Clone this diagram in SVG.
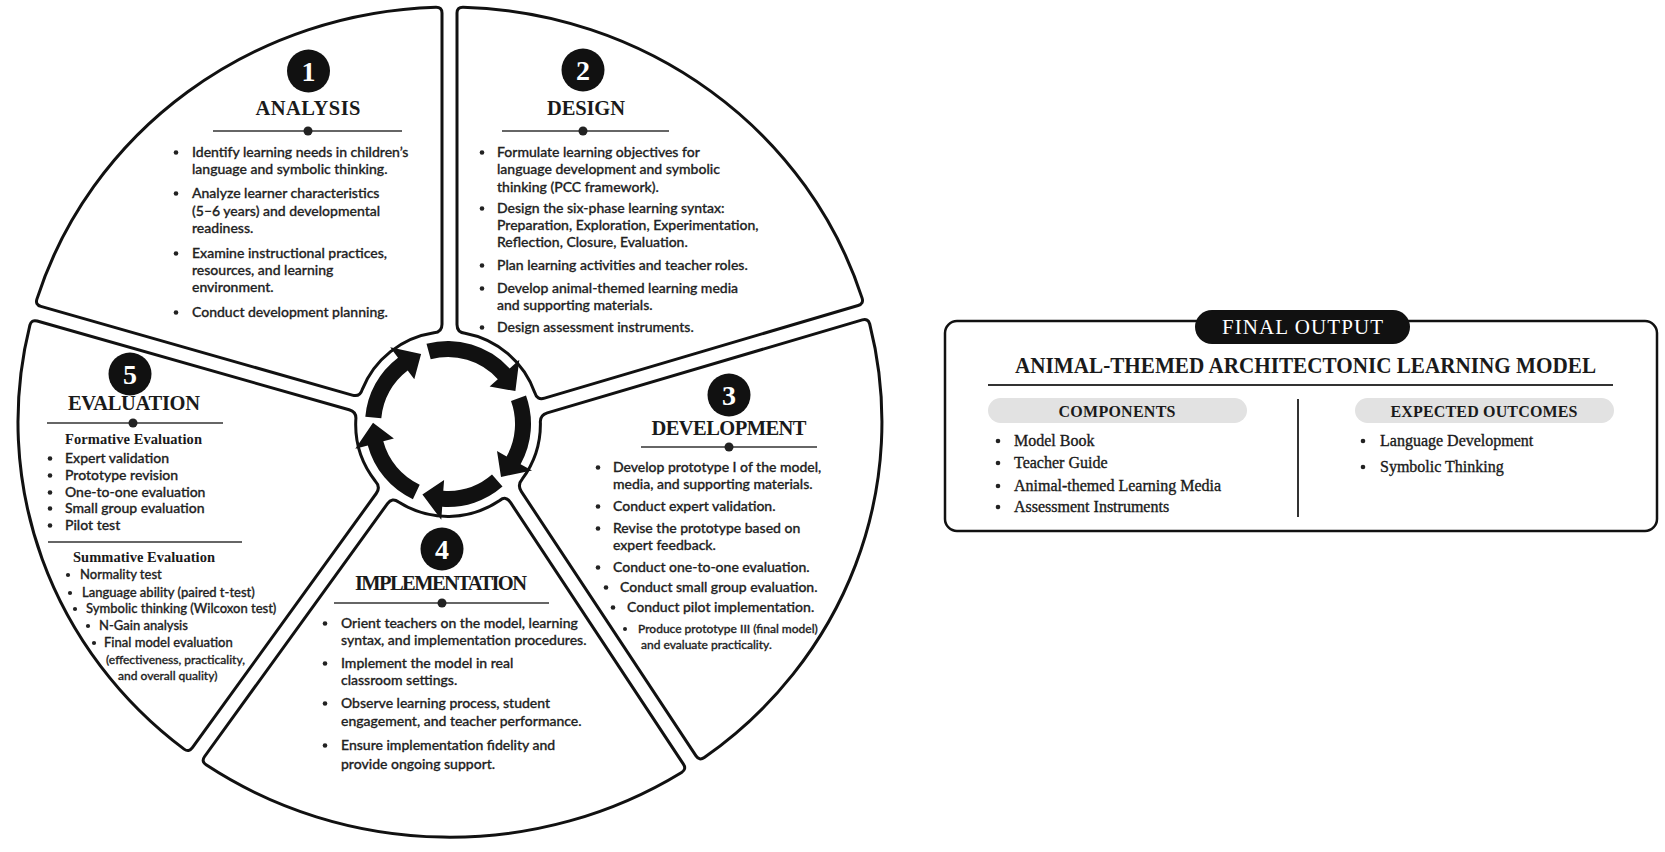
<svg xmlns="http://www.w3.org/2000/svg" width="1665" height="852" viewBox="0 0 1665 852">
<style>
.seg{fill:#fff;stroke:#111;stroke-width:3;stroke-linejoin:round}
.num{fill:#111}
.numt{fill:#fff;font-family:"Liberation Serif",serif;font-weight:bold;font-size:28px;text-anchor:middle}
.ttl{fill:#1a1a1a;font-family:"Liberation Serif",serif;font-weight:bold;font-size:20.5px;text-anchor:middle}
.dv{stroke:#333;stroke-width:1.6}
.dot{fill:#222}
.b{fill:#222;stroke:#222;stroke-width:0.3;font-family:Lato,"Liberation Sans",sans-serif;font-weight:500;font-size:14px}
.s13{font-size:13px}
.s12{font-size:12px}
.sub{fill:#1a1a1a;font-family:"Liberation Serif",serif;font-weight:bold;font-size:14.5px}
.arr{fill:#111}
.box{fill:#fff;stroke:#111;stroke-width:2.5}
.pill{fill:#111}
.gpill{fill:#e2e2e2}
.sf{fill:#1a1a1a;stroke:#1a1a1a;stroke-width:0.35;font-family:"Liberation Serif",serif;font-size:16px}
.sfb{fill:#1a1a1a;font-family:"Liberation Serif",serif;font-weight:bold;font-size:16px;text-anchor:middle}
</style>
<rect width="1665" height="852" fill="#fff"/>

<g id="analysis">
<path class="seg" d="M 352.2 395.1 L 40.9 306.4 Q 35.1 304.8 36.9 299.1 A 432 415 0 0 1 436.0 7.2 Q 442 7.1 442 13.1 L 442 324.2 Q 442 332.2 434.0 332.7 A 92 92 0 0 0 362.2 389.6 Q 359.9 397.3 352.2 395.1 Z"/>
<circle class="num" cx="308.5" cy="71" r="21.5"/>
<text class="numt" x="308.5" y="80.5">1</text>
<text class="ttl" x="308" y="115" textLength="105">ANALYSIS</text>
<line class="dv" x1="213" y1="131" x2="402" y2="131"/>
<circle class="dot" cx="308" cy="131" r="4.5"/>
<circle class="dot" cx="176" cy="152.5" r="2.3"/>
<text class="b" x="192" y="157">Identify learning needs in children’s</text>
<text class="b" x="192" y="174">language and symbolic thinking.</text>
<circle class="dot" cx="176" cy="193.5" r="2.3"/>
<text class="b" x="192" y="198">Analyze learner characteristics</text>
<text class="b" x="192" y="216">(5–6 years) and developmental</text>
<text class="b" x="192" y="233">readiness.</text>
<circle class="dot" cx="176" cy="253.5" r="2.3"/>
<text class="b" x="192" y="258">Examine instructional practices,</text>
<text class="b" x="192" y="275">resources, and learning</text>
<text class="b" x="192" y="292">environment.</text>
<circle class="dot" cx="176" cy="312.5" r="2.3"/>
<text class="b" x="192" y="317">Conduct development planning.</text>
</g>

<g id="design">
<path class="seg" d="M 465.0 333.2 Q 457 332.4 457 324.4 L 457 13.05 Q 457 7.05 463.0 7.14 A 432 415 0 0 1 862.1 298.1 Q 863.9 303.8 858.1 305.5 L 544.6 398.1 Q 536.9 400.4 534.8 392.7 A 92 92 0 0 0 465.0 333.2 Z"/>
<circle class="num" cx="583" cy="70" r="21.5"/>
<text class="numt" x="583" y="79.5">2</text>
<text class="ttl" x="586" y="115" textLength="78">DESIGN</text>
<line class="dv" x1="502" y1="131" x2="669" y2="131"/>
<circle class="dot" cx="583" cy="131" r="4.5"/>
<circle class="dot" cx="482" cy="152.5" r="2.3"/>
<text class="b" x="497" y="157">Formulate learning objectives for</text>
<text class="b" x="497" y="174">language development and symbolic</text>
<text class="b" x="497" y="192">thinking (PCC framework).</text>
<circle class="dot" cx="482" cy="208.5" r="2.3"/>
<text class="b" x="497" y="213">Design the six-phase learning syntax:</text>
<text class="b" x="497" y="230">Preparation, Exploration, Experimentation,</text>
<text class="b" x="497" y="247">Reflection, Closure, Evaluation.</text>
<circle class="dot" cx="482" cy="265.5" r="2.3"/>
<text class="b" x="497" y="270">Plan learning activities and teacher roles.</text>
<circle class="dot" cx="482" cy="288.5" r="2.3"/>
<text class="b" x="497" y="293">Develop animal-themed learning media</text>
<text class="b" x="497" y="310">and supporting materials.</text>
<circle class="dot" cx="482" cy="327.5" r="2.3"/>
<text class="b" x="497" y="332">Design assessment instruments.</text>
</g>

<g id="development">
<path class="seg" d="M 547.3 412.9 L 862.3 319.9 Q 868.1 318.2 869.7 324.0 A 432 415 0 0 1 704.3 757.5 Q 699.3 760.9 696.0 755.9 L 521.4 491.6 Q 517.0 484.9 522.3 478.9 A 92 92 0 0 0 540.4 423.2 Q 539.6 415.2 547.3 412.9 Z"/>
<circle class="num" cx="729" cy="395" r="21.5"/>
<text class="numt" x="729" y="404.5">3</text>
<text class="ttl" x="729" y="435" textLength="155">DEVELOPMENT</text>
<line class="dv" x1="641" y1="447" x2="817" y2="447"/>
<circle class="dot" cx="729" cy="447" r="4.5"/>
<circle class="dot" cx="598" cy="467.5" r="2.3"/>
<text class="b" x="613" y="472">Develop prototype I of the model,</text>
<text class="b" x="613" y="489">media, and supporting materials.</text>
<circle class="dot" cx="598" cy="506.5" r="2.3"/>
<text class="b" x="613" y="511">Conduct expert validation.</text>
<circle class="dot" cx="598" cy="528.5" r="2.3"/>
<text class="b" x="613" y="533">Revise the prototype based on</text>
<text class="b" x="613" y="550">expert feedback.</text>
<circle class="dot" cx="598" cy="567.5" r="2.3"/>
<text class="b" x="613" y="572">Conduct one-to-one evaluation.</text>
<circle class="dot" cx="606" cy="587.5" r="2.3"/>
<text class="b" x="620" y="592">Conduct small group evaluation.</text>
<circle class="dot" cx="613" cy="607.5" r="2.3"/>
<text class="b" x="627" y="612">Conduct pilot implementation.</text>
<circle class="dot" cx="625" cy="629" r="2"/>
<text class="b s12" x="638" y="633">Produce prototype III (final model)</text>
<text class="b s12" x="641" y="649">and evaluate practicality.</text>
</g>

<g id="implementation">
<path class="seg" d="M 510.3 502.2 L 683.4 764.2 Q 686.7 769.2 681.6 772.4 A 432 415 0 0 1 206.1 764.8 Q 201.1 761.4 204.6 756.5 L 387.5 503.6 Q 392.2 497.1 398.6 502.0 A 92 92 0 0 0 499.7 500.5 Q 505.9 495.5 510.3 502.2 Z"/>
<circle class="num" cx="442" cy="549" r="21.5"/>
<text class="numt" x="442" y="558.5">4</text>
<text class="ttl" x="441" y="590" textLength="172">IMPLEMENTATION</text>
<line class="dv" x1="334" y1="603" x2="549" y2="603"/>
<circle class="dot" cx="442" cy="603" r="4.5"/>
<circle class="dot" cx="325" cy="623.5" r="2.3"/>
<text class="b" x="341" y="628">Orient teachers on the model, learning</text>
<text class="b" x="341" y="645">syntax, and implementation procedures.</text>
<circle class="dot" cx="325" cy="663.5" r="2.3"/>
<text class="b" x="341" y="668">Implement the model in real</text>
<text class="b" x="341" y="685">classroom settings.</text>
<circle class="dot" cx="325" cy="703.5" r="2.3"/>
<text class="b" x="341" y="708">Observe learning process, student</text>
<text class="b" x="341" y="726">engagement, and teacher performance.</text>
<circle class="dot" cx="325" cy="745.5" r="2.3"/>
<text class="b" x="341" y="750">Ensure implementation fidelity and</text>
<text class="b" x="341" y="769">provide ongoing support.</text>
</g>

<g id="evaluation">
<path class="seg" d="M 376.2 493.5 L 192.4 747.7 Q 188.9 752.6 184.1 749.1 A 432 415 0 0 1 29.9 325.2 Q 31.4 319.4 37.2 321.0 L 349.1 409.8 Q 356.8 412.0 355.8 419.9 A 92 92 0 0 0 375.4 481.2 Q 380.9 487.0 376.2 493.5 Z"/>
<circle class="num" cx="130" cy="374" r="21.5"/>
<text class="numt" x="130" y="383.5">5</text>
<text class="ttl" x="134" y="410" textLength="132">EVALUATION</text>
<line class="dv" x1="47" y1="423" x2="223" y2="423"/>
<circle class="dot" cx="133" cy="423" r="4.5"/>
<text class="sub" x="65" y="444" textLength="137">Formative Evaluation</text>
<circle class="dot" cx="50" cy="458.5" r="2.3"/>
<text class="b" x="65" y="463">Expert validation</text>
<circle class="dot" cx="50" cy="475.5" r="2.3"/>
<text class="b" x="65" y="480">Prototype revision</text>
<circle class="dot" cx="50" cy="492.5" r="2.3"/>
<text class="b" x="65" y="497">One-to-one evaluation</text>
<circle class="dot" cx="50" cy="508.5" r="2.3"/>
<text class="b" x="65" y="513">Small group evaluation</text>
<circle class="dot" cx="50" cy="525.5" r="2.3"/>
<text class="b" x="65" y="530">Pilot test</text>
<line class="dv" x1="48" y1="542" x2="242" y2="542"/>
<text class="sub" x="73" y="562" textLength="142">Summative Evaluation</text>
<circle class="dot" cx="68" cy="575" r="2.1"/>
<text class="b s13" x="80" y="579">Normality test</text>
<circle class="dot" cx="70" cy="593" r="2.1"/>
<text class="b s13" x="82" y="597">Language ability (paired t-test)</text>
<circle class="dot" cx="75" cy="609" r="2.1"/>
<text class="b s13" x="86" y="613">Symbolic thinking (Wilcoxon test)</text>
<circle class="dot" cx="88" cy="626" r="2.1"/>
<text class="b s13" x="99" y="630">N-Gain analysis</text>
<circle class="dot" cx="94" cy="643" r="2.1"/>
<text class="b s13" x="104" y="647">Final model evaluation</text>
<text class="b s12" x="106" y="664">(effectiveness, practicality,</text>
<text class="b s12" x="118" y="680">and overall quality)</text>
</g>

<g id="connectors">
<path class="arr" d="M 426.5 343.8 A 83 83 0 0 1 509.7 368.5 L 519.3 359.8 L 515.4 391.1 L 489.6 386.5 L 497.8 379.2 A 67 67 0 0 0 430.7 359.3 Z"/>
<path class="arr" d="M 526.0 395.6 A 83 83 0 0 1 520.6 464.2 L 532.0 470.5 L 501.0 477.0 L 497.0 451.1 L 506.6 456.5 A 67 67 0 0 0 511.0 401.1 Z"/>
<path class="arr" d="M 502.5 486.6 A 83 83 0 0 1 442.2 506.8 L 441.3 519.8 L 422.4 494.5 L 444.1 479.9 L 443.3 490.8 A 67 67 0 0 0 492.0 474.6 Z"/>
<path class="arr" d="M 412.9 499.2 A 83 83 0 0 1 367.8 445.5 L 355.3 448.8 L 373.0 422.7 L 393.9 438.5 L 383.3 441.3 A 67 67 0 0 0 419.7 484.7 Z"/>
<path class="arr" d="M 365.3 416.8 A 83 83 0 0 1 398.0 357.7 L 390.2 347.3 L 421.1 354.0 L 414.3 379.3 L 407.7 370.5 A 67 67 0 0 0 381.3 418.2 Z"/>
</g>

<g id="final-output">
<rect class="box" x="945" y="321" width="712" height="210" rx="12"/>
<rect class="pill" x="1195" y="310" width="215" height="34" rx="17"/>
<text x="1302.5" y="334" fill="#fff" font-family="Liberation Serif, serif" font-size="21" text-anchor="middle" textLength="161">FINAL OUTPUT</text>
<text x="1015" y="373" fill="#1a1a1a" font-family="Liberation Serif, serif" font-weight="bold" font-size="22.5" textLength="581" lengthAdjust="spacingAndGlyphs">ANIMAL-THEMED ARCHITECTONIC LEARNING MODEL</text>
<line x1="988" y1="385" x2="1613" y2="385" stroke="#333" stroke-width="2"/>
<rect class="gpill" x="988" y="398" width="259" height="25" rx="12.5"/>
<text class="sfb" x="1117" y="417" textLength="117">COMPONENTS</text>
<rect class="gpill" x="1355" y="398" width="259" height="25" rx="12.5"/>
<text class="sfb" x="1484" y="417" textLength="187">EXPECTED OUTCOMES</text>
<line x1="1298" y1="399" x2="1298" y2="517" stroke="#333" stroke-width="2"/>
<circle class="dot" cx="998" cy="441" r="2.3"/>
<text class="sf" x="1014" y="446">Model Book</text>
<circle class="dot" cx="998" cy="463" r="2.3"/>
<text class="sf" x="1014" y="468">Teacher Guide</text>
<circle class="dot" cx="998" cy="486" r="2.3"/>
<text class="sf" x="1014" y="491">Animal-themed Learning Media</text>
<circle class="dot" cx="998" cy="507" r="2.3"/>
<text class="sf" x="1014" y="512">Assessment Instruments</text>
<circle class="dot" cx="1363" cy="441" r="2.3"/>
<text class="sf" x="1380" y="446">Language Development</text>
<circle class="dot" cx="1363" cy="467" r="2.3"/>
<text class="sf" x="1380" y="472">Symbolic Thinking</text>
</g>
</svg>
